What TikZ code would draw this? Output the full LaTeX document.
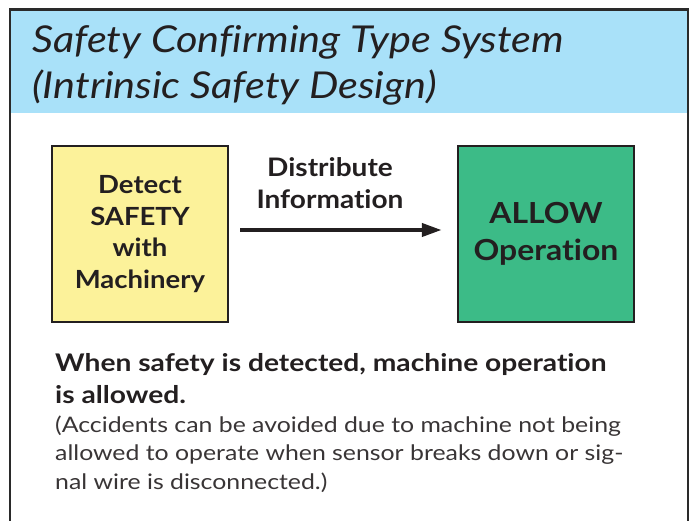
\documentclass[tikz,border=0pt]{standalone}
\usepackage{fontspec}
\defaultfontfeatures{Ligatures=NoCommon}
\setmainfont{Lato}
% slightly widened cuts of Lato for the different text groups
\newfontfamily\titlefamily[FakeStretch=1.12, Ligatures=NoCommon]{Lato}
\newfontfamily\boxfamily[FakeStretch=1.1, Ligatures=NoCommon]{Lato}
\newfontfamily\notefamily[FakeStretch=1.16, Ligatures=NoCommon]{Lato}
\usetikzlibrary{arrows.meta}

\definecolor{bandblue}{HTML}{A9E1F9}
\definecolor{boxyellow}{HTML}{FCF29A}
\definecolor{boxgreen}{HTML}{3CBB87}
\definecolor{ink}{HTML}{231F20}
\definecolor{framegray}{HTML}{2A2A2A}

\tikzset{
  block/.style={draw=ink, line width=2.5bp, minimum width=176bp, minimum height=176bp,
    inner sep=0pt, align=center, text=ink},
  flow/.style={draw=ink, line width=4bp, -{Triangle[length=20bp,width=13bp]}},
  titletext/.style={anchor=base west, inner sep=0pt, text=ink,
    font=\titlefamily\itshape\fontsize{37bp}{46bp}\selectfont},
  boldnote/.style={anchor=base west, inner sep=0pt, text=ink,
    font=\notefamily\bfseries\fontsize{24.3bp}{32bp}\selectfont},
  plainnote/.style={anchor=base west, inner sep=0pt, text=ink!90,
    font=\notefamily\fontsize{21.4bp}{28.5bp}\selectfont},
}

\begin{document}
\begin{tikzpicture}[x=1bp, y=-1bp]
\useasboundingbox (0,0) rectangle (693,521);

% title band and open frame
\fill[bandblue] (10,10) rectangle (688,113);
\draw[framegray, line width=2.7bp] (10,525) -- (10,9.5) -- (688,9.5) -- (688,525);

\node[titletext] (t1) at (32,53) {Safety Confirming Type System};
\node[titletext] (t2) at (32,99) {(Intrinsic Safety Design)};

% the two blocks
\node[block, fill=boxyellow, font=\boxfamily\bfseries\fontsize{25bp}{31.7bp}\selectfont]
  (detect) at (140,234) {Detect\\SAFETY\\with\\Machinery};
\node[block, fill=boxgreen, font=\boxfamily\bfseries\fontsize{29bp}{37bp}\selectfont]
  (allow) at (546,234) {ALLOW\\Operation};

% connector with its label
\draw[flow, shorten <=11bp, shorten >=15bp]
  ([yshift=4bp]detect.east) -- ([yshift=4bp]allow.west);
\node[align=center, inner sep=0pt, text=ink, font=\boxfamily\bfseries\fontsize{25.5bp}{31.5bp}\selectfont]
  (info) at (330,183) {Distribute\\Information};

% explanatory text
\node[boldnote] (n1) at (55,371) {When safety is detected, machine operation};
\node[boldnote] (n2) at (55,403) {is allowed.};
\node[plainnote] (n3) at (55,432) {(Accidents can be avoided due to machine not being};
\node[plainnote] (n4) at (55,460.5) {allowed to operate when sensor breaks down or sig-};
\node[plainnote] (n5) at (55,489) {nal wire is disconnected.)};
\end{tikzpicture}
\end{document}
